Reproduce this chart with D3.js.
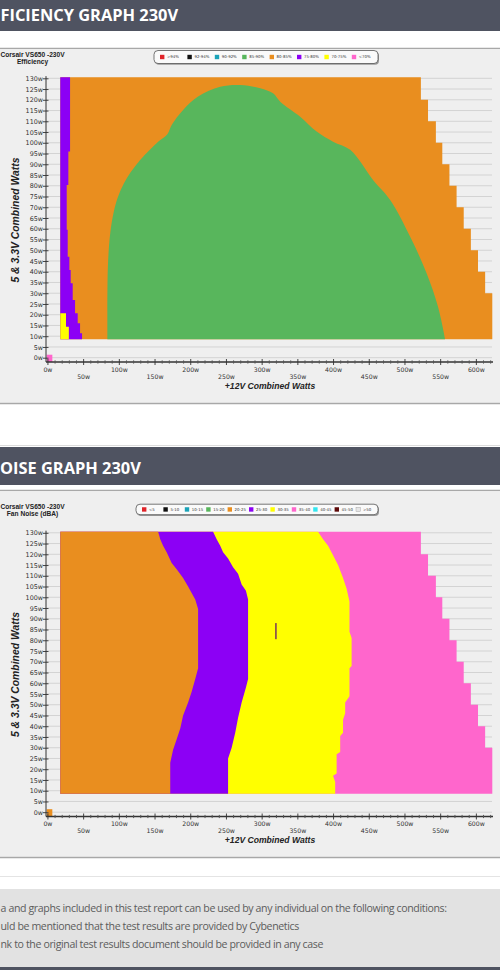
<!DOCTYPE html>
<html>
<head>
<meta charset="utf-8">
<script src="https://cdn.jsdelivr.net/npm/d3@7"></script>
<style>
  body { margin: 0; background: #fff; }
  svg { display: block; }
</style>
</head>
<body>
<svg id="page" width="500" height="970"></svg>
<script>
// ---- data ----
// axis ticks (watts)
var xTickValues = [0, 50, 100, 150, 200, 250, 300, 350, 400, 450, 500, 550, 600];
var yTickValues = [0, 5, 10, 15, 20, 25, 30, 35, 40, 45, 50, 55, 60, 65, 70, 75, 80, 85, 90, 95, 100, 105, 110, 115, 120, 125, 130];

// measured load grid: [12V watts, 5V+3.3V watts]
var gridMinX = 18, gridMinY = 8.6, gridMaxY = 130.5;
var maxLoadSteps = [[523, 130.5], [533, 120], [544, 110], [553, 100], [563, 90], [573, 80],
                    [583, 70], [593, 60], [603, 50], [613, 40], [623, 30]];

// efficiency legend
var effLabels = [">94%", "92-94%", "90-92%", "85-90%", "80-85%", "75-80%", "70-75%", "<70%"];
var effColors = ["#e0242a", "#111111", "#1aa3b8", "#58b65c", "#e98e1f", "#8c00f5", "#ffff00", "#ff66cc"];

// efficiency zones (boundaries, bottom to top)
var eff75Edge = [[48.5, 8.6], [45.7, 11.4], [42.4, 16], [38.7, 20.7], [35.4, 26.9], [32.6, 34.6],
                 [30.7, 40.8], [28.4, 47], [27, 59.5], [29.3, 80.4], [31.7, 95.9], [31.7, 130.5]];
var eff70Edge = [[30, 8.6], [26, 14.4], [26, 20.7]];
var eff85Zone = [[84, 8.6], [84, 30], [85, 45], [88, 58], [93, 68], [99, 75], [107, 81], [116, 86],
                 [125, 90], [134, 93.5], [155, 100.5], [168, 104], [174, 108.3], [190, 115.3],
                 [211, 121.5], [242, 126.1], [270, 126.9], [298, 125.4], [316, 123], [326, 119.1],
                 [354, 112.1], [377, 105.2], [400, 100.5], [424, 96.7], [456, 82.7], [480, 73.4],
                 [508, 56.3], [531, 39.3], [547, 23.7], [557, 8.6]];

// noise legend
var noiseLabels = ["<5", "5-10", "10-15", "15-20", "20-25", "25-30", "30-35", "35-40", "40-45", "45-50", ">50"];
var noiseColors = ["#e0242a", "#111111", "#1aa3b8", "#58b65c", "#e98e1f", "#8c00f5", "#ffff00", "#ff66cc", "#33e6f0", "#5e0a0a", "#e6e6e6"];

// noise zones (boundaries, bottom to top)
var noise25Edge = [[172, 8.6], [172, 23], [176, 29], [181, 34], [186, 39], [190, 45], [197, 51], [202, 56],
                   [207, 62], [211, 67], [211, 94.5], [207, 99], [202, 102], [197, 105], [190, 109],
                   [181, 113], [174, 116], [167, 121], [162, 124], [158, 127], [155, 130.5]];
var noise30Edge = [[253, 8.6], [253, 25], [258, 30], [263, 37], [267, 44], [272, 51], [278, 58], [281, 62],
                   [281, 99], [278, 103], [272, 106], [267, 111], [260, 114], [253, 118], [246, 121],
                   [242, 124], [237, 127], [232, 130.5]];
var noise35Edge = [[403, 8.6], [403, 14], [400, 17], [405, 18], [405, 27], [410, 28], [410, 35.5], [414, 37],
                   [414, 43], [417, 46], [417, 51], [423, 54], [423, 67], [426, 68], [426, 81], [423, 84],
                   [423, 98], [419, 104], [414, 109], [407, 115], [400, 119.5], [393, 124], [386, 127],
                   [379, 130.5]];
var noiseOddCell = [320, 80.5, 88];

// visible part of the footer text
var footerLines = [
  "a and graphs included in this test report can be used by any individual on the following conditions:",
  "uld be mentioned that the test results are provided by Cybenetics",
  "nk to the original test results document should be provided in any case"
];

// ---- page ----
var svg = d3.select("#page");
var W = 500;
var dark = "#4f5361";

function band(y, h, fill) {
  svg.append("rect").attr("x", 0).attr("y", y).attr("width", W).attr("height", h).attr("fill", fill);
}
function hline(y, color, w) {
  svg.append("line").attr("x1", 0).attr("x2", W).attr("y1", y).attr("y2", y)
    .attr("stroke", color).attr("stroke-width", w);
}

band(0, 31, dark);
hline(48.5, "#a8a8a8", 1.5);
band(49.25, 353.5, "#efefef");
hline(403.5, "#a8a8a8", 1.5);
hline(445.5, "#dcdcdc", 1);
band(447, 38, dark);
hline(490.5, "#a8a8a8", 1.5);
band(491.25, 365.5, "#efefef");
hline(857.5, "#a8a8a8", 1.5);
hline(876.5, "#e4e4e4", 1);
band(889, 78, "#e2e2e2");
band(967, 3, dark);

// section headers (left part is off the page in the source)
svg.append("text").attr("x", 0.5).attr("y", 20.5)
  .attr("font-family", "Open Sans").attr("font-weight", "bold").attr("font-size", 16.4)
  .attr("fill", "#fff").text("FICIENCY GRAPH 230V");
svg.append("text").attr("x", 0).attr("y", 474)
  .attr("font-family", "Open Sans").attr("font-weight", "bold").attr("font-size", 16.4)
  .attr("fill", "#fff").text("OISE GRAPH 230V");

svg.selectAll(".foot").data(footerLines).enter().append("text")
  .attr("x", 0.5).attr("y", function (d, i) { return 912 + i * 18; })
  .attr("font-family", "Open Sans").attr("font-size", 10.6).attr("fill", "#5c5c5c")
  .attr("letter-spacing", -0.38)
  .text(function (d) { return d; });

// ---- charts ----
function drawChart(base, titleY, subtitle, legendBox, labels, colors, spacing, drawZones) {
  var g = svg.append("g");
  var x = d3.scaleLinear().domain([-2, 624]).range([46, 493]);
  var y = d3.scaleLinear().domain([-2, 132]).range([base, base - 288]);
  var pt = d3.line().x(function (d) { return x(d[0]); }).y(function (d) { return y(d[1]); });

  // title
  g.append("text").attr("x", 32.5).attr("y", titleY).attr("text-anchor", "middle")
    .attr("font-family", "Liberation Sans").attr("font-weight", "bold").attr("font-size", 6.6)
    .attr("fill", "#222").text("Corsair VS650 -230V");
  g.append("text").attr("x", 32.5).attr("y", titleY + 7.2).attr("text-anchor", "middle")
    .attr("font-family", "Liberation Sans").attr("font-weight", "bold").attr("font-size", 6.6)
    .attr("fill", "#222").text(subtitle);

  // legend
  g.append("rect").attr("x", legendBox[0] + 1).attr("y", legendBox[1] + 1.2)
    .attr("width", legendBox[2]).attr("height", legendBox[3]).attr("rx", 4)
    .attr("fill", "#9a9a9a");
  g.append("rect").attr("x", legendBox[0]).attr("y", legendBox[1])
    .attr("width", legendBox[2]).attr("height", legendBox[3]).attr("rx", 4)
    .attr("fill", "#fafafa").attr("stroke", "#555").attr("stroke-width", 0.8);
  var cy = legendBox[1] + legendBox[3] / 2;
  var item = g.selectAll(".leg").data(labels).enter().append("g")
    .attr("transform", function (d, i) { return "translate(" + (legendBox[0] + 6 + i * spacing) + "," + cy + ")"; });
  item.append("rect").attr("x", 0).attr("y", -2.2).attr("width", 4.4).attr("height", 4.4)
    .attr("fill", function (d, i) { return colors[i]; })
    .attr("stroke", function (d, i) { return i === colors.length - 1 && colors.length > 8 ? "#999" : "none"; })
    .attr("stroke-width", 0.4);
  item.append("text").attr("x", 7).attr("y", 1.4)
    .attr("font-family", "DejaVu Sans").attr("font-size", 3.9).attr("fill", "#333")
    .text(function (d) { return d; });

  // gridlines
  g.selectAll(".grid").data(yTickValues).enter().append("line")
    .attr("x1", x(-2)).attr("x2", 492).attr("y1", function (d) { return y(d); }).attr("y2", function (d) { return y(d); })
    .attr("stroke", "#d3d3d3").attr("stroke-width", 1);

  drawZones(g, x, y, pt);

  // y axis
  var ya = g.append("g").attr("transform", "translate(" + x(-2) + ",0)")
    .call(d3.axisLeft(y).tickValues(yTickValues).tickFormat(function (d) { return d + "w"; }).tickSize(3).tickSizeOuter(0));
  ya.select(".domain").remove();
  ya.append("line").attr("y1", y(-2)).attr("y2", y(131)).attr("stroke", "#333");
  ya.selectAll(".tick line").attr("x1", 2.5).attr("stroke", "#444");
  ya.selectAll(".tick text").attr("x", -3).attr("font-family", "DejaVu Sans").attr("font-size", 6.4).attr("fill", "#333");

  // x axis
  var xa = g.append("g").attr("transform", "translate(0," + y(-2) + ")")
    .call(d3.axisBottom(x).tickValues(xTickValues).tickFormat(function (d) { return d + "w"; }).tickSize(3).tickSizeOuter(0));
  xa.select(".domain").remove();
  xa.append("line").attr("x1", x(-2)).attr("x2", 493).attr("stroke", "#333").attr("stroke-width", 1.3);
  xa.selectAll(".tick line").attr("y1", -3).attr("stroke", "#444");
  xa.selectAll(".tick text").attr("dy", null)
    .attr("y", function (d, i) { return i % 2 ? 16.5 : 9.5; })
    .attr("font-family", "DejaVu Sans").attr("font-size", 6.2).attr("fill", "#333");
  var minor = g.append("g").attr("transform", "translate(0," + y(-2) + ")")
    .call(d3.axisBottom(x).tickValues(d3.range(10, 621, 10).filter(function (d) { return d % 50; }))
      .tickFormat("").tickSize(1.6).tickSizeOuter(0));
  minor.select(".domain").remove();
  minor.selectAll(".tick line").attr("y1", -1.6).attr("stroke", "#555");

  // axis titles
  g.append("text").attr("x", 270).attr("y", y(-2) + 26.5).attr("text-anchor", "middle")
    .attr("font-family", "Liberation Sans").attr("font-weight", "bold").attr("font-style", "italic")
    .attr("font-size", 8.6).attr("fill", "#222").text("+12V Combined Watts");
  g.append("text").attr("transform", "translate(18.5," + (base - 142) + ") rotate(-90)")
    .attr("text-anchor", "middle")
    .attr("font-family", "Liberation Sans").attr("font-weight", "bold").attr("font-style", "italic")
    .attr("font-size", 10.4).attr("fill", "#222").text("5 & 3.3V Combined Watts");

  return g;
}

function envelope(g, pt, color) {
  var pts = [[gridMinX, gridMinY], [gridMinX, gridMaxY]].concat(maxLoadSteps)
    .concat([[maxLoadSteps[maxLoadSteps.length - 1][0], gridMinY]]);
  g.append("path").attr("d", pt.curve(d3.curveStepBefore)(pts) + "Z").attr("fill", color);
}
function leftZone(g, pt, edge, color, curve) {
  var pts = [[gridMinX, gridMinY]].concat(edge).concat([[gridMinX, gridMaxY]]);
  if (edge[edge.length - 1][1] < gridMaxY) pts[pts.length - 1] = [gridMinX, edge[edge.length - 1][1]];
  g.append("path").attr("d", pt.curve(curve)(pts) + "Z").attr("fill", color);
}
function originCell(g, x, y, color) {
  g.append("rect").attr("x", x(0) - 0.7).attr("y", y(0) - 3).attr("width", 5.6).attr("height", y(-2) - y(0) + 3)
    .attr("fill", color);
}

// efficiency
drawChart(362, 56.5, "Efficiency", [154, 50.5, 224, 13], effLabels, effColors, 27.4, function (g, x, y, pt) {
  envelope(g, pt, effColors[4]);
  leftZone(g, pt, eff75Edge, effColors[5], d3.curveStepBefore);
  leftZone(g, pt, eff70Edge, effColors[6], d3.curveStepBefore);
  g.append("path").attr("d", pt.curve(d3.curveCatmullRom.alpha(0.5))(eff85Zone) + "Z").attr("fill", effColors[3]);
  originCell(g, x, y, effColors[7]);
});

// noise
drawChart(816.5, 509.2, "Fan Noise (dBA)", [136, 504.2, 242, 10.5], noiseLabels, noiseColors, 21.4, function (g, x, y, pt) {
  envelope(g, pt, noiseColors[7]);
  leftZone(g, pt, noise35Edge, noiseColors[6], d3.curveLinear);
  leftZone(g, pt, noise30Edge, noiseColors[5], d3.curveLinear);
  leftZone(g, pt, noise25Edge, noiseColors[4], d3.curveLinear);
  g.append("rect").attr("x", x(noiseOddCell[0]) - 0.7).attr("y", y(noiseOddCell[2]))
    .attr("width", 1.4).attr("height", y(noiseOddCell[1]) - y(noiseOddCell[2])).attr("fill", "#6e2a63");
  originCell(g, x, y, noiseColors[4]);
});
</script>
</body>
</html>
